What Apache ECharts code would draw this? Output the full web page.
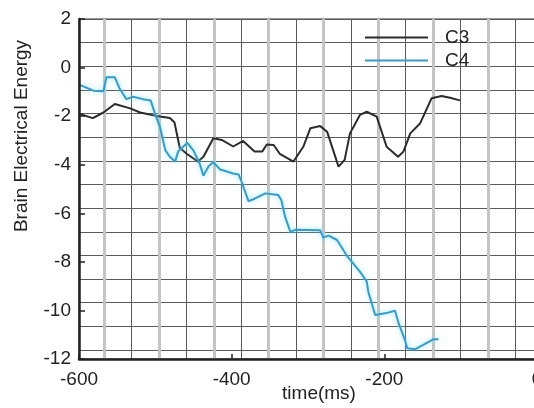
<!DOCTYPE html>
<html>
<head>
<meta charset="utf-8">
<script src="https://cdn.jsdelivr.net/npm/echarts@6/dist/echarts.min.js"></script>
<style>html,body{margin:0;padding:0;background:#fff}#c{width:534px;height:408px}</style>
</head>
<body>
<div id="c"></div>
<script>
const seriesNames = ['C3', 'C4'];
const c3Time = [-600,-582,-568,-553,-533,-520,-498,-481,-475,-468,-459,-444,-437,-424,-413,-398,-385,-370,-360,-354,-345,-337,-319,-306,-297,-284,-275,-260,-252,-245,-232,-223,-210,-197,-182,-175,-166,-153,-138,-125,-114,-101];
const c3Value = [-1.9,-2.08,-1.85,-1.5,-1.68,-1.85,-1.99,-2.08,-2.25,-3.3,-3.55,-3.87,-3.67,-2.91,-2.98,-3.25,-3.02,-3.46,-3.46,-3.17,-3.19,-3.55,-3.87,-3.25,-2.5,-2.41,-2.64,-4.08,-3.8,-2.71,-1.95,-1.82,-2.02,-3.26,-3.67,-3.46,-2.71,-2.29,-1.26,-1.17,-1.24,-1.35];
const c4Time = [-600,-581,-568,-564,-553,-547,-538,-529,-516,-506,-500,-494,-487,-481,-474,-470,-465,-458,-450,-442,-437,-430,-424,-415,-398,-391,-387,-378,-370,-356,-339,-335,-330,-323,-317,-284,-280,-273,-262,-249,-232,-223,-221,-212,-199,-186,-182,-173,-170,-160,-149,-136,-129];
const c4Value = [-0.7,-0.95,-0.97,-0.4,-0.4,-0.85,-1.3,-1.2,-1.3,-1.36,-1.95,-2.43,-3.4,-3.67,-3.87,-3.45,-3.3,-3.1,-3.42,-3.95,-4.45,-4.05,-3.9,-4.2,-4.36,-4.4,-4.7,-5.5,-5.4,-5.18,-5.25,-5.45,-6.14,-6.78,-6.68,-6.7,-7.0,-6.92,-7.1,-7.75,-8.4,-8.81,-9.23,-10.19,-10.12,-10.01,-10.46,-11.22,-11.56,-11.6,-11.42,-11.19,-11.19];
const xTickMin = -600, xTickMax = 0, xTickStep = 200;
const yTickMin = -12, yTickMax = 2, yTickStep = 2;

const pair = (t, v) => t.map((x, i) => [x, v[i]]);
const FONT = 'Liberation Sans, Arial, sans-serif';
const TXT = '#222';

const chart = echarts.init(document.getElementById('c'), null, {renderer: 'canvas'});
chart.setOption({
  animation: false,
  backgroundColor: '#fff',
  textStyle: {fontFamily: FONT},
  grid: [
    {left: 79, top: 19, right: -3, bottom: 49, show: true, borderColor: '#333', borderWidth: 1, backgroundColor: 'transparent', containLabel: false, outerBoundsMode: 'none'},
    {left: 104.3, top: 19, right: -3, bottom: 49, containLabel: false, outerBoundsMode: 'none'},
    {left: 131.7, top: 19, right: -3, bottom: 49, containLabel: false, outerBoundsMode: 'none'}
  ],
  xAxis: [
    {gridIndex: 0, type: 'value', min: xTickMin, max: xTickMax, interval: xTickStep,
     axisLine: {show: true, onZero: false, lineStyle: {color: '#222', width: 2.5}},
     axisTick: {show: true, inside: true, length: 5, lineStyle: {color: '#222', width: 1.5}},
     axisLabel: {fontSize: 19, color: TXT, margin: 11, fontFamily: FONT},
     splitLine: {show: false},
     name: 'time(ms)', nameLocation: 'middle', nameGap: 25, nameMoveOverlap: false,
     nameTextStyle: {fontSize: 19, color: TXT, fontFamily: FONT, padding: [0, 0, 0, 22]}, z: 5},
    {gridIndex: 1, type: 'value', min: 0, max: 15.79, interval: 2,
     axisLine: {show: false}, axisTick: {show: false}, axisLabel: {show: false},
     splitLine: {show: true, lineStyle: {color: '#c4c4c4', width: 3}}},
    {gridIndex: 2, type: 'value', min: 0, max: 14.79, interval: 2,
     axisLine: {show: false}, axisTick: {show: false}, axisLabel: {show: false},
     splitLine: {show: true, lineStyle: {color: '#5a5a5a', width: 1}}}
  ],
  yAxis: [
    {gridIndex: 0, type: 'value', min: yTickMin, max: yTickMax, interval: yTickStep,
     axisLine: {show: true, onZero: false, lineStyle: {color: '#222', width: 2.5}},
     axisTick: {show: true, inside: true, length: 6, lineStyle: {color: '#222', width: 1.5}},
     axisLabel: {fontSize: 19, color: TXT, margin: 8, fontFamily: FONT},
     splitLine: {show: false},
     name: 'Brain Electrical Energy', nameLocation: 'middle', nameGap: 48, nameRotate: 90, nameMoveOverlap: false,
     nameTextStyle: {fontSize: 19, color: TXT, fontFamily: FONT, padding: [0, 0, 0, 106]}, z: 5},
    {gridIndex: 0, type: 'value', inverse: true, min: 0, max: 14.38, interval: 1, position: 'right',
     axisLine: {show: false}, axisTick: {show: false}, axisLabel: {show: false},
     splitLine: {show: true, lineStyle: {color: '#5a5a5a', width: 1}}},
    {gridIndex: 1, type: 'value', min: 0, max: 1, show: false, splitLine: {show: false}},
    {gridIndex: 2, type: 'value', min: 0, max: 1, show: false, splitLine: {show: false}}
  ],
  legend: {
    data: seriesNames, orient: 'vertical', left: 360, top: 23,
    icon: 'rect', itemWidth: 63, itemHeight: 2, itemGap: 4,
    textStyle: {fontSize: 19, color: TXT, fontFamily: FONT, padding: [0, 0, 0, 12]}
  },
  series: [
    {name: seriesNames[0], type: 'line', xAxisIndex: 0, yAxisIndex: 0, data: pair(c3Time, c3Value),
     symbol: 'none', color: '#2b2b2b', lineStyle: {width: 2, color: '#2b2b2b'}, z: 3},
    {name: seriesNames[1], type: 'line', xAxisIndex: 0, yAxisIndex: 0, data: pair(c4Time, c4Value),
     symbol: 'none', color: '#3a9bc9', lineStyle: {width: 2, color: '#3a9bc9', shadowColor: 'rgba(120,225,245,0.9)', shadowBlur: 5}, z: 4}
  ]
});
</script>
</body>
</html>
